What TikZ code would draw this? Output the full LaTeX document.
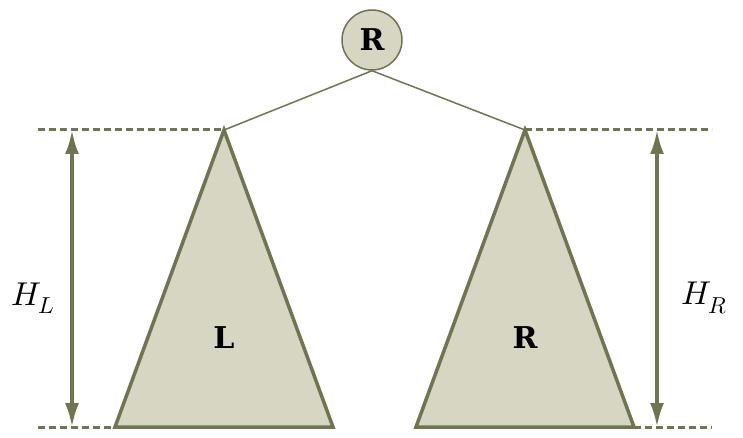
\documentclass[tikz,border=0pt]{standalone}
\usepackage{fontspec}
\usepackage{unicode-math}
\setmathfont{Latin Modern Math}
\newfontfamily\slabfont{DejaVu Serif}
\usetikzlibrary{arrows.meta}
\definecolor{olive}{HTML}{707450}
\definecolor{khaki}{HTML}{D6D6C2}
\begin{document}
\begin{tikzpicture}[x=1pt,y=-1pt,
  tree/.style={draw=olive,fill=khaki,line width=3.5pt,line join=miter},
  link/.style={draw=olive,line width=1.5pt},
  guide/.style={draw=olive,line width=3pt,dash pattern=on 7pt off 4pt},
  height/.style={draw=olive,line width=3.5pt,{Latex[length=24pt,width=14pt]}-{Latex[length=24pt,width=14pt]}},
  letter/.style={font=\slabfont\bfseries\fontsize{30}{36}\selectfont},
  hlabel/.style={font=\fontsize{33}{40}\selectfont}]
\useasboundingbox (0,0) rectangle (743,438);
% triangles
\coordinate (la) at (224,130);
\coordinate (lb1) at (115,427);
\coordinate (lb2) at (333,427);
\coordinate (ra) at (525,130);
\coordinate (rb1) at (416,427);
\coordinate (rb2) at (634,427);
\path[tree] (la) -- (lb2) -- (lb1) -- cycle;
\path[tree] (ra) -- (rb2) -- (rb1) -- cycle;
% root
\node[circle,draw=olive,fill=khaki,line width=1.5pt,minimum size=60pt,inner sep=0pt,letter] (root) at (372,40) {R};
\draw[link] (root.south) -- (la);
\draw[link] (root.south) -- (ra);
% guides
\coordinate (glt) at (38,130);
\coordinate (glb) at (38,427);
\coordinate (grt) at (712,130);
\coordinate (grb) at (712,427);
\draw[guide] (glt) -- (la);
\draw[guide] (glb) -- (lb1);
\draw[guide] (ra) -- (grt);
\draw[guide] (rb2) -- (grb);
% height arrows
\coordinate (hlt) at (72,130);
\coordinate (hlb) at (72,427);
\coordinate (hrt) at (657,130);
\coordinate (hrb) at (657,427);
\draw[height] (hlt) -- (hlb);
\draw[height] (hrt) -- (hrb);
% labels
\node[letter] (ltext) at (224,338) {L};
\node[letter] (rtext) at (525,338) {R};
\node[hlabel] (hl) at (33,298) {$H_L$};
\node[hlabel] (hr) at (704,298) {$H_R$};
\end{tikzpicture}
\end{document}
